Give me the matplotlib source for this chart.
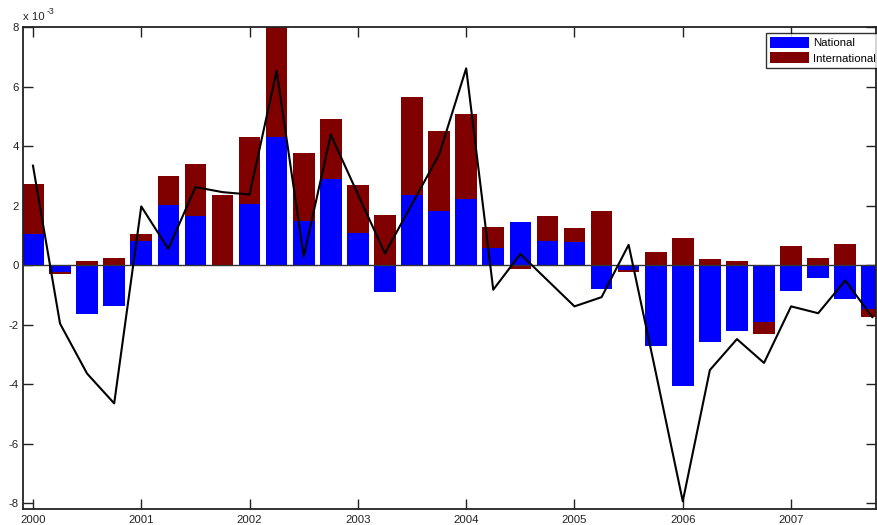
import numpy as np
import matplotlib
matplotlib.use("Agg")
import matplotlib.pyplot as plt
from matplotlib.patches import Patch

plt.rcParams['font.family'] = ['Liberation Sans', 'DejaVu Sans']
plt.rcParams['axes.unicode_minus'] = False

# Values in units of 1e-3, quarterly 2000Q1 .. 2007Q4
start_year = 2000
national = [1.03, -0.25, -1.65, -1.38, 0.81, 2.02, 1.64, 0.0, 2.04, 4.31, 1.48, 2.88,
            1.08, -0.92, 2.37, 1.82, 2.23, 0.57, 1.45, 0.80, 0.76, -0.79, -0.17, -2.72,
            -4.06, -2.59, -2.23, -1.91, -0.86, -0.45, -1.15, -1.47]
international = [1.71, -0.04, 0.13, 0.25, 0.23, 0.96, 1.77, 2.37, 2.27, 3.9, 2.3, 2.04,
                 1.6, 1.67, 3.28, 2.7, 2.85, 0.70, -0.13, 0.84, 0.48, 1.81, -0.08, 0.43,
                 0.90, 0.2, 0.13, -0.42, 0.64, 0.23, 0.70, -0.29]
total_line = [3.34, -1.97, -3.65, -4.65, 1.97, 0.54, 2.62, 2.45, 2.37, 6.53, 0.29, 4.38,
              2.38, 0.39, 2.05, 3.71, 6.61, -0.83, 0.37, -0.51, -1.39, -1.08, 0.68, -3.6,
              -7.94, -3.53, -2.49, -3.29, -1.39, -1.62, -0.52, -1.75]
year_ticks = [2000, 2001, 2002, 2003, 2004, 2005, 2006, 2007]
y_ticks = [-8, -6, -4, -2, 0, 2, 4, 6, 8]

nat = np.array(national)
intl = np.array(international)
x = start_year + np.arange(len(nat)) * 0.25

# stacked separately for positive and negative parts
intl_bottom = np.where(np.sign(intl) == np.sign(nat), nat, 0.0)

fig = plt.figure(figsize=(8.77, 5.25), dpi=100)
ax = fig.add_axes([23/877, 16/525, (876-23)/877, (509-27)/525])

w = 0.2
ax.bar(x, nat, width=w, color='#0000ff', edgecolor='none', zorder=2)
ax.bar(x, intl, width=w, bottom=intl_bottom, color='#800000', edgecolor='none', zorder=2)
ax.axhline(0, color='#333333', lw=1.0, zorder=3)
ax.plot(x, total_line, color='black', lw=1.5, zorder=4)

ax.set_xlim(1999.908, 2007.784)
ax.set_ylim(-8.2, 8)
ax.set_xticks(year_ticks)
ax.set_xticklabels([str(y) for y in year_ticks])
ax.set_yticks(y_ticks)
ax.set_yticklabels([str(t) for t in y_ticks])
ax.tick_params(direction='in', length=7, width=1.0, top=True, right=True,
               labelsize=8.2, colors='#222222', pad=3)
ax.tick_params(axis='x', pad=4)
for s in ax.spines.values():
    s.set_linewidth(1.3)
    s.set_color('#222222')

fig.text(23/877, 1 - 20/525, 'x 10', fontsize=8.2, color='#222222',
         ha='left', va='baseline')
fig.text(47/877, 1 - 14/525, '-3', fontsize=6.2, color='#222222',
         ha='left', va='baseline')

handles = [Patch(facecolor='#0000ff', edgecolor='none', label='National'),
           Patch(facecolor='#800000', edgecolor='none', label='International')]
leg = ax.legend(handles=handles, loc='upper left',
                bbox_to_anchor=((766-23)/853, (509-33)/482),
                fontsize=8.2, frameon=True, fancybox=False, edgecolor='black',
                handlelength=3.4, handleheight=1.1, handletextpad=0.4,
                borderpad=0.35, labelspacing=0.35, borderaxespad=0)
leg.get_frame().set_linewidth(1.0)

fig.savefig('out.png', dpi=100)
